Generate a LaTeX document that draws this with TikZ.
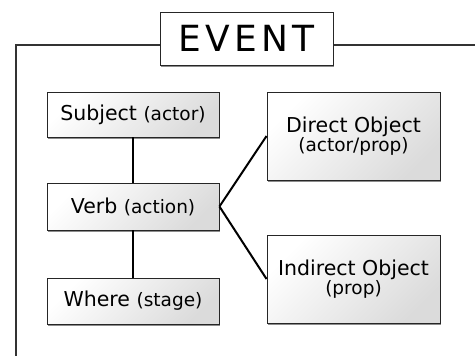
\documentclass[tikz,border=0pt]{standalone}
\usepackage{fontspec}
\setmainfont{DejaVu Sans}
\usetikzlibrary{shadows}
\newcommand{\paren}[1]{{\fontsize{18.5pt}{20pt}\selectfont #1}}
\tikzset{
  x=1pt, y=-1pt,
  box/.style={draw=black!85, line width=0.9pt, shading=axis, top color=white,
    bottom color=black!14, shading angle=45,
    drop shadow={shadow xshift=1.2pt, shadow yshift=-1.5pt, opacity=0.45, fill=black},
    align=center, inner sep=0pt, font=\fontsize{20.5pt}{20pt}\selectfont},
  frame/.style={draw=black!80, line width=1.3pt},
  link/.style={draw=black, line width=2pt},
  titlebox/.style={draw=black!85, line width=1pt, fill=white,
    drop shadow={shadow xshift=1.2pt, shadow yshift=-1.5pt, opacity=0.45, fill=black},
    inner sep=0pt, minimum width=173pt, minimum height=53pt,
    font=\fontsize{36pt}{36pt}\selectfont}
}
\begin{document}
\begin{tikzpicture}
\useasboundingbox (0,0) rectangle (475,356);
\coordinate (fbl) at (16,357);
\coordinate (ftl) at (16,45);
\coordinate (ftr) at (476,45);
\draw[frame] (fbl) -- (ftl) -- (ftr);
\node[titlebox] (event) at (246.5,38.5) {E\kern4pt V\kern4pt E\kern4pt N\kern4pt T};
\node[box, minimum width=172pt, minimum height=45pt] (subj) at (133,114.5) {Subject \paren{(actor)}};
\node[box, minimum width=172pt, minimum height=47pt] (verb) at (133,206.5) {Verb \paren{(action)}};
\node[box, minimum width=172pt, minimum height=46pt] (where) at (133,301) {Where \paren{(stage)}};
\node[box, minimum width=173pt, minimum height=88pt] (dobj) at (353.5,136) {Direct Object\\[-1pt]\paren{(actor/prop)}};
\node[box, minimum width=173pt, minimum height=88pt] (iobj) at (353.5,279) {Indirect Object\\[-1pt]\paren{(prop)}};
\draw[link] (subj) -- (verb);
\draw[link] (verb) -- (where);
\draw[link] (verb.east) -- (dobj.west);
\draw[link] (verb.east) -- (iobj.west);
\end{tikzpicture}
\end{document}
